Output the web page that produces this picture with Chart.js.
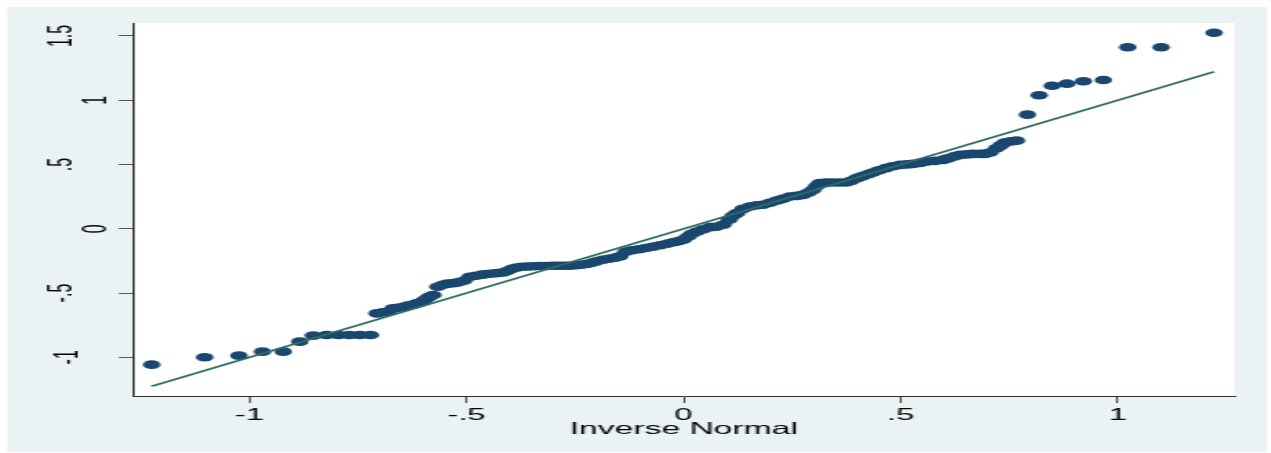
<!DOCTYPE html>
<html>
<head>
<meta charset="utf-8">
<script src="https://cdn.jsdelivr.net/npm/chart.js@4/dist/chart.umd.min.js"></script>
<style>
  html, body { margin: 0; padding: 0; background: #ffffff; overflow: hidden; }
  #wrap { width: 623px; height: 453px; transform-origin: 0 0; transform: scaleX(2.0401); }
  canvas { display: block; }
</style>
</head>
<body>
<div id="wrap"><canvas id="qq" width="623" height="453"></canvas></div>
<script>
// Normal quantile plot: sorted observations against the inverse-normal quantiles.
const invNormal = [
  -1.225, -1.103, -1.024, -0.970, -0.922, -0.884, -0.853, -0.822, -0.795, -0.770,
  -0.746, -0.721, -0.706, -0.693, -0.680, -0.669, -0.658, -0.646, -0.635, -0.623,
  -0.614, -0.605, -0.596, -0.587, -0.577, -0.566, -0.554, -0.543, -0.531, -0.520,
  -0.506, -0.492, -0.478, -0.464, -0.453, -0.439, -0.428, -0.416, -0.405, -0.395,
  -0.384, -0.372, -0.358, -0.345, -0.331, -0.317, -0.301, -0.287, -0.273, -0.262,
  -0.248, -0.236, -0.223, -0.211, -0.200, -0.186, -0.172, -0.158, -0.147, -0.133,
  -0.119, -0.103, -0.087, -0.071, -0.054, -0.038, -0.024, -0.013, -0.001, 0.010,
  0.019, 0.031, 0.045, 0.061, 0.075, 0.091, 0.105, 0.114, 0.123, 0.137,
  0.153, 0.169, 0.183, 0.199, 0.215, 0.229, 0.245, 0.261, 0.275, 0.287,
  0.298, 0.307, 0.314, 0.328, 0.342, 0.358, 0.374, 0.386, 0.399, 0.411,
  0.425, 0.436, 0.450, 0.466, 0.482, 0.499, 0.515, 0.528, 0.545, 0.561,
  0.579, 0.598, 0.609, 0.623, 0.637, 0.653, 0.667, 0.683, 0.694, 0.706,
  0.721, 0.731, 0.740, 0.754, 0.767, 0.792, 0.819, 0.849, 0.883, 0.921,
  0.967, 1.023, 1.100, 1.222
];
const sortedValues = [
  -1.057, -1.000, -0.987, -0.956, -0.956, -0.878, -0.831, -0.826, -0.826, -0.826,
  -0.826, -0.826, -0.658, -0.649, -0.643, -0.619, -0.614, -0.608, -0.598, -0.591,
  -0.579, -0.571, -0.552, -0.532, -0.515, -0.451, -0.435, -0.427, -0.424, -0.417,
  -0.404, -0.373, -0.365, -0.357, -0.352, -0.348, -0.344, -0.340, -0.326, -0.311,
  -0.301, -0.295, -0.293, -0.291, -0.290, -0.289, -0.288, -0.288, -0.288, -0.288,
  -0.284, -0.280, -0.274, -0.264, -0.253, -0.241, -0.233, -0.225, -0.215, -0.179,
  -0.167, -0.159, -0.150, -0.140, -0.128, -0.117, -0.105, -0.097, -0.086, -0.062,
  -0.039, -0.021, -0.004, 0.013, 0.016, 0.031, 0.070, 0.101, 0.122, 0.155,
  0.173, 0.183, 0.187, 0.202, 0.220, 0.233, 0.251, 0.256, 0.264, 0.280,
  0.303, 0.334, 0.355, 0.360, 0.360, 0.360, 0.360, 0.373, 0.394, 0.408,
  0.424, 0.438, 0.455, 0.472, 0.486, 0.497, 0.501, 0.505, 0.513, 0.523,
  0.528, 0.536, 0.548, 0.563, 0.575, 0.579, 0.583, 0.583, 0.583, 0.593,
  0.627, 0.649, 0.671, 0.680, 0.686, 0.888, 1.039, 1.113, 1.129, 1.148,
  1.158, 1.412, 1.412, 1.525
];

const xTickValues = [-1, -0.5, 0, 0.5, 1];
const xTickLabels = ['-1', '-.5', '0', '.5', '1'];
const yTickValues = [-1, -0.5, 0, 0.5, 1, 1.5];
const yTickLabels = ['-1', '-.5', '0', '.5', '1', '1.5'];
const xTitle = 'Inverse Normal';

const FONT = "'Liberation Sans', Arial, Helvetica, sans-serif";

const points = invNormal.map((q, i) => ({ x: q, y: sortedValues[i] }));
// Reference line y = x across the range of the quantiles
const refLine = [
  { x: invNormal[0], y: invNormal[0] },
  { x: invNormal[invNormal.length - 1], y: invNormal[invNormal.length - 1] }
];

// Light graph region behind a white plot region
const backdrop = {
  id: 'backdrop',
  beforeDraw(chart) {
    const { ctx, chartArea: a } = chart;
    ctx.save();
    ctx.fillStyle = '#ffffff';
    ctx.fillRect(0, 0, chart.width, chart.height);
    ctx.fillStyle = '#eaf2f3';
    ctx.fillRect(3.4, 7, 621.1 - 3.4, 452 - 7);
    ctx.fillStyle = '#ffffff';
    ctx.fillRect(a.left, a.top, a.right - a.left, a.bottom - a.top);
    ctx.restore();
  }
};

// Vertical y-axis labels, reading upward
const yLabelBaseline = { '1.5': 35.4, '1': 52.4, '.5': 35.4, '0': 52.4, '-.5': 35.4, '-1': 38.2 };
const yLabels = {
  id: 'yLabels',
  afterDraw(chart) {
    const { ctx } = chart;
    const s = chart.scales.y;
    ctx.save();
    ctx.font = '16px ' + FONT;
    ctx.fillStyle = '#000000';
    ctx.textAlign = 'center';
    ctx.textBaseline = 'alphabetic';
    yTickValues.forEach((v, i) => {
      const lab = yTickLabels[i];
      ctx.save();
      ctx.translate(yLabelBaseline[lab], s.getPixelForValue(v));
      ctx.rotate(-Math.PI / 2);
      ctx.fillText(lab, 0, 0);
      ctx.restore();
    });
    ctx.restore();
  }
};

new Chart(document.getElementById('qq'), {
  type: 'scatter',
  data: {
    datasets: [
      {
        type: 'line',
        data: refLine,
        borderColor: '#2e6e62',
        borderWidth: 1.6,
        pointRadius: 0,
        fill: false,
        order: 0
      },
      {
        type: 'scatter',
        data: points,
        backgroundColor: '#1a476f',
        borderWidth: 0,
        pointRadius: 4.3,
        pointHoverRadius: 4.3,
        order: 1
      }
    ]
  },
  options: {
    responsive: false,
    animation: false,
    devicePixelRatio: 1,
    layout: { padding: { top: 23, right: 17.9, left: 0, bottom: 0 } },
    plugins: { legend: { display: false }, tooltip: { enabled: false } },
    scales: {
      x: {
        type: 'linear',
        min: -1.268,
        max: 1.269,
        afterBuildTicks(scale) { scale.ticks = xTickValues.map(v => ({ value: v })); },
        afterFit(scale) { scale.height = 57; },
        ticks: {
          callback: (v, i) => xTickLabels[i],
          color: '#000000',
          font: { family: FONT, size: 16 },
          padding: 3,
          maxRotation: 0,
          minRotation: 0
        },
        grid: { drawOnChartArea: false, drawTicks: true, tickLength: 7, tickColor: '#555555', tickWidth: 1 },
        border: { display: true, color: '#333333', width: 1 },
        title: {
          display: true,
          text: xTitle,
          color: '#000000',
          font: { family: FONT, size: 16.5, lineHeight: 1 },
          padding: { top: 0, bottom: 15 }
        }
      },
      y: {
        type: 'linear',
        min: -1.301,
        max: 1.601,
        afterBuildTicks(scale) { scale.ticks = yTickValues.map(v => ({ value: v })); },
        afterFit(scale) { scale.width = 65.2; },
        ticks: { display: false },
        grid: { drawOnChartArea: false, drawTicks: true, tickLength: 7, tickColor: '#555555', tickWidth: 1 },
        border: { display: true, color: '#333333', width: 1 }
      }
    }
  },
  plugins: [backdrop, yLabels]
});
</script>
</body>
</html>
